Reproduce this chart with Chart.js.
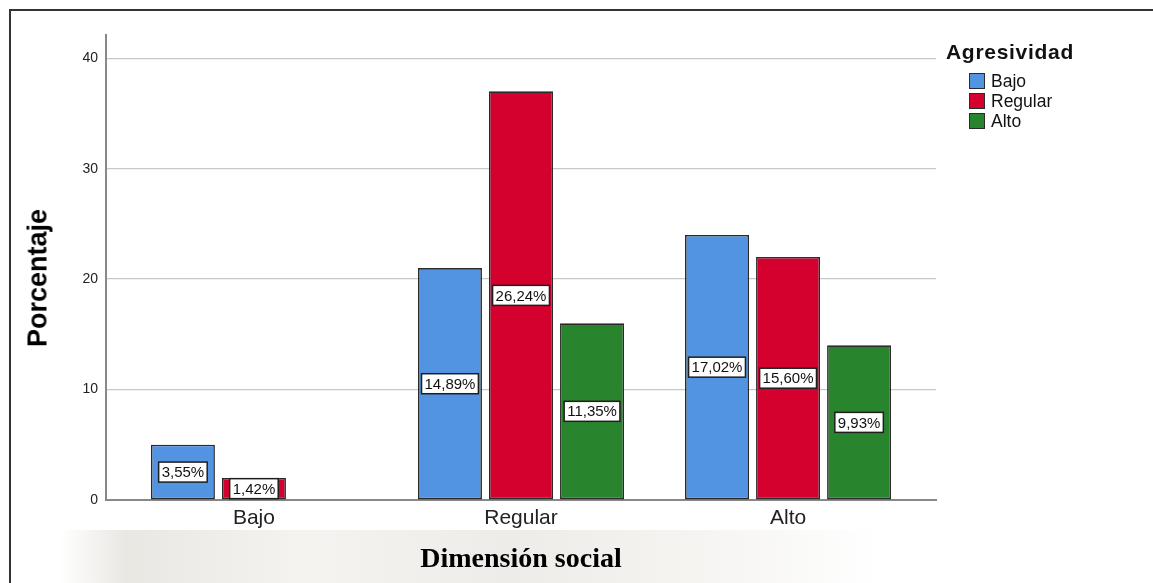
<!DOCTYPE html>
<html>
<head>
<meta charset="utf-8">
<script src="https://cdn.jsdelivr.net/npm/chart.js@4"></script>
<style>
  html, body { margin: 0; padding: 0; background: #fff; }
  #wrap { position: relative; width: 1153px; height: 583px; overflow: hidden; }
  #frame { position: absolute; left: 9px; top: 9px; right: -4px; bottom: -4px;
           border-top: 2px solid #333; border-left: 2px solid #333; }
  #mark { position: absolute; left: 60px; top: 530px; width: 820px; height: 60px;
          background: linear-gradient(90deg, rgba(215,212,203,0) 0%, rgba(215,212,203,0.55) 8%,
                      rgba(225,222,214,0.35) 30%, rgba(220,217,209,0.5) 55%, rgba(225,222,214,0.3) 80%,
                      rgba(215,212,203,0) 100%); }
  canvas { position: absolute; left: 0; top: 0; }
  .ytitle { position: absolute; left: 38px; top: 278px; transform: translate(-50%, -50%) rotate(-90deg);
            font: bold 27px "Liberation Sans", Arial, sans-serif; color: #000; white-space: nowrap; }
  .xtitle { position: absolute; left: 521px; top: 558px; transform: translate(-50%, -50%);
            font: bold 28px "Liberation Serif", "Times New Roman", serif; color: #000; white-space: nowrap; }
  #legend { position: absolute; left: 946px; top: 40px; font-family: "Liberation Sans", Arial, sans-serif; }
  #legend .title { font-weight: bold; font-size: 21px; color: #111; margin-bottom: 7px; letter-spacing: 0.7px; }
  #legend .item { display: flex; align-items: center; height: 20px; margin-left: 23px; font-size: 17.5px; color: #111; }
  #legend .sw { width: 14px; height: 14px; border: 1.5px solid #2b2b2b; margin-right: 6px; }
</style>
</head>
<body>
<div id="wrap">
  <div id="mark"></div>
  <div id="frame"></div>
  <canvas id="chart" width="1153" height="583"></canvas>
  <div class="ytitle">Porcentaje</div>
  <div class="xtitle">Dimensión social</div>
  <div id="legend"></div>
</div>
<script>
// categories on the x axis (Dimensión social)
const categories = ['Bajo', 'Regular', 'Alto'];
// series (Agresividad) - counts per category
const seriesNames = ['Bajo', 'Regular', 'Alto'];
const bajoCounts = [5, 21, 24];
const regularCounts = [2, 37, 22];
const altoCounts = [0, 16, 14];
const yTicks = [0, 10, 20, 30, 40];

const colors = ['#5294e2', '#d4002e', '#29852d'];
const counts = [bajoCounts, regularCounts, altoCounts];
const total = counts.flat().reduce((a, b) => a + b, 0);

// percent of total, written the Spanish way
function pctLabel(v) {
    return (v / total * 100).toFixed(2).replace('.', ',') + '%';
}

// white boxed percentage in the middle of each bar
const boxLabels = {
    id: 'boxLabels',
    afterDatasetsDraw(chart) {
        const ctx = chart.ctx;
        ctx.save();
        ctx.font = '15px "Liberation Sans", Arial, sans-serif';
        ctx.textAlign = 'center';
        ctx.textBaseline = 'middle';
        chart.data.datasets.forEach((ds, di) => {
            chart.getDatasetMeta(di).data.forEach((bar, i) => {
                const v = ds.data[i].y;
                if (!v) return;
                const { x, y, base } = bar.getProps(['x', 'y', 'base'], true);
                const cy = (y + base) / 2;
                const text = pctLabel(v);
                const w = ctx.measureText(text).width + 6;
                const h = 20;
                ctx.fillStyle = '#fff';
                ctx.fillRect(x - w / 2, cy - h / 2, w, h);
                ctx.strokeStyle = '#1e1e1e';
                ctx.lineWidth = 1.5;
                ctx.strokeRect(x - w / 2, cy - h / 2, w, h);
                ctx.fillStyle = '#111';
                ctx.fillText(text, x, cy + 1);
            });
        });
        ctx.restore();
    }
};

new Chart(document.getElementById('chart').getContext('2d'), {
    type: 'bar',
    data: {
        datasets: seriesNames.map((name, s) => ({
            label: name,
            data: counts[s].map((v, i) => ({ x: i, y: v })),
            backgroundColor: colors[s],
            borderColor: '#2a2a2a',
            borderWidth: c => (c.raw && c.raw.y === 0 ? 0 : 1.6),
            borderSkipped: false,
            categoryPercentage: 0.798,
            barPercentage: 0.901
        }))
    },
    options: {
        responsive: false,
        animation: false,
        layout: { padding: { top: 35, right: 217, left: 0, bottom: 0 } },
        plugins: { legend: { display: false }, tooltip: { enabled: false } },
        scales: {
            x: {
                type: 'linear',
                min: -0.554,
                max: 2.554,
                offset: false,
                afterBuildTicks: s => { s.ticks = categories.map((c, i) => ({ value: i })); },
                afterFit: s => { s.height = 83; },
                ticks: {
                    callback: v => categories[v],
                    color: '#222',
                    padding: 6,
                    maxRotation: 0,
                    font: { family: '"Liberation Sans", Arial, sans-serif', size: 21 }
                },
                grid: { display: false, offset: false, drawTicks: false },
                border: { display: true, color: '#888', width: 2 }
            },
            y: {
                min: 0,
                max: 42.1,
                afterBuildTicks: s => { s.ticks = yTicks.map(v => ({ value: v })); },
                afterFit: s => { s.width = 106; },
                ticks: {
                    color: '#222',
                    padding: 8,
                    font: { family: '"Liberation Sans", Arial, sans-serif', size: 14 }
                },
                grid: { color: '#c8c8c8', lineWidth: 1.2, drawTicks: false },
                border: { display: true, color: '#888', width: 2 }
            }
        }
    },
    plugins: [boxLabels]
});

// legend built from the same series names and colours
const legend = document.getElementById('legend');
legend.innerHTML = '<div class="title">Agresividad</div>' +
    seriesNames.map((n, s) => '<div class="item"><span class="sw" style="background:' + colors[s] + '"></span>' + n + '</div>').join('');
</script>
</body>
</html>
